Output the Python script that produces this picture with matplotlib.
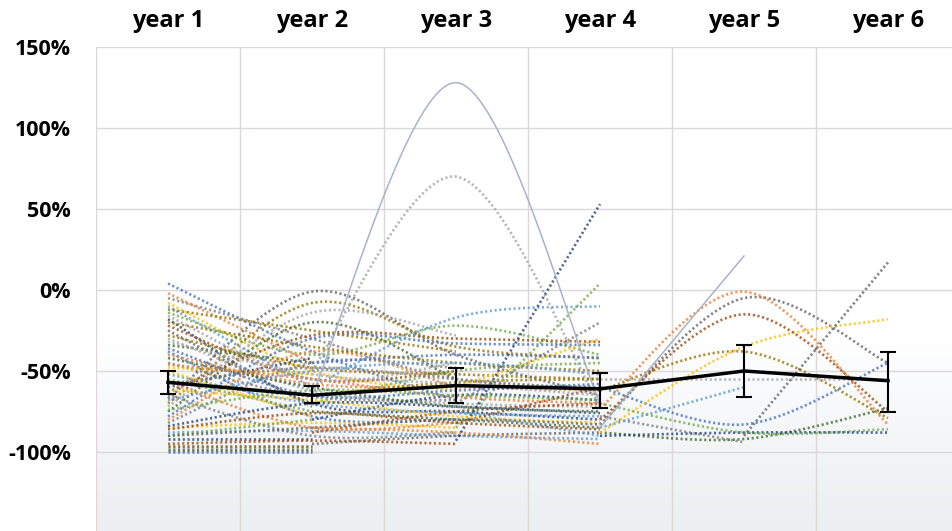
import numpy as np
import matplotlib.pyplot as plt
from matplotlib.colors import LinearSegmentedColormap

N = np.nan

years = ["year 1", "year 2", "year 3", "year 4", "year 5", "year 6"]

# mean change (%) with error bar extents
mean_change = [-57, -65, -59, -61, -50, -56]
err_below = [7, 5, 11, 12, 16, 19]
err_above = [7, 6, 11, 10, 16, 18]

# individual patients, one row per patient (year 1 .. year 6)
from_year1 = [
    [4, -38, -68, N, N, N],
    [-2, -45, N, N, N, N],
    [-5, -30, -55, -60, N, N],
    [-8, -50, -62, N, N, N],
    [-10, -60, N, N, N, N],
    [-14, -40, -22, -40, N, N],
    [-18, -70, -75, -80, N, N],
    [-22, -55, -50, N, N, N],
    [-25, -72, N, N, N, N],
    [-28, -48, -52, -55, N, N],
    [-30, -62, -70, -72, N, N],
    [-34, -45, N, N, N, N],
    [-38, -78, -80, N, N, N],
    [-40, -58, -60, -62, N, N],
    [-45, -66, -68, N, N, N],
    [-48, -52, N, N, N, N],
    [-52, -70, -76, -78, N, N],
    [-55, -75, N, N, N, N],
    [-60, -42, N, N, N, N],
    [-63, -28, -30, -32, N, N],
    [-67, -1, -40, -65, N, N],
    [-70, -8, -35, -42, N, N],
    [-72, -14, -28, N, N, N],
    [-75, -20, -55, N, N, N],
    [-78, -30, -33, -34, N, N],
    [-80, -38, -60, N, N, N],
    [-82, -45, -48, N, N, N],
    [-85, -82, -85, N, N, N],
    [-88, -87, -90, -92, N, N],
    [-90, -80, N, N, N, N],
    [-92, -92, N, N, N, N],
    [-95, -93, -95, N, N, N],
    [-96, -96, N, N, N, N],
    [-97, -97, N, N, N, N],
    [-98, -98, N, N, N, N],
    [-99, -99, N, N, N, N],
    [-100, -100, N, N, N, N],
    [-57, -85, -82, N, N, N],
    [-65, -90, -88, N, N, N],
    [-50, -78, N, N, N, N],
]

from_year2 = [
    [N, -60, -17, -10, N, N],
    [N, -70, -50, -45, N, N],
    [N, -80, -65, -68, N, N],
    [N, -88, -75, -70, N, N],
    [N, -95, -90, -88, N, N],
    [N, -65, -57, -55, N, N],
    [N, -50, 70, -72, N, N],
    [N, -75, -80, -85, N, N],
    [N, -45, -40, -42, N, N],
    [N, -85, -88, -95, N, N],
]

from_year3 = [
    [N, N, -70, -20, N, N],
    [N, N, -60, -30, N, N],
    [N, N, -75, -90, N, N],
    [N, N, -85, 4, N, N],
    [N, N, -93, 53, N, N],
    [N, N, -82, -60, N, N],
]

from_year4 = [
    [N, N, N, -83, -5, -45],
    [N, N, N, -62, -38, -79],
    [N, N, N, -55, -55, -55],
    [N, N, N, -88, -92, -73],
    [N, N, N, -60, -83, -45],
    [N, N, N, -73, -1, -83],
    [N, N, N, -78, -94, N],
    [N, N, N, -88, -35, -18],
    [N, N, N, -85, -60, N],
    [N, N, N, -70, -88, -86],
    [N, N, N, -90, -88, -88],
    [N, N, N, -80, -15, -75],
    [N, N, N, N, -90, 17],
]

# more year 1 patients in the middle of the band
from_year1_more = [
    [-20, -35, -45, -50, N, N],
    [-32, -52, -58, -65, N, N],
    [-42, -60, -72, -75, N, N],
    [-36, -65, -62, -58, N, N],
    [-46, -55, -66, -70, N, N],
    [-58, -48, -55, -62, N, N],
    [-62, -68, -78, -82, N, N],
    [-68, -50, -45, -52, N, N],
    [-74, -62, -65, -68, N, N],
    [-84, -70, -72, -76, N, N],
    [-86, -76, -82, -86, N, N],
    [-90, -85, -80, -83, N, N],
    [-12, -25, -38, N, N, N],
    [-16, -55, -45, N, N, N],
]

# two patients drawn with solid lines
solid_patients = [
    [N, -65, 128, -70, N, N],
    [N, N, N, -85, 21, N],
]

palette = ["#4472C4", "#ED7D31", "#7F7F7F", "#FFC000", "#5B9BD5", "#70AD47",
           "#264478", "#9E480E", "#636363", "#997300", "#A5A5A5", "#43682B"]


def smooth(xs, ys, n=40):
    # excel-style smoothed line (catmull-rom bezier)
    pts = np.column_stack([xs, ys]).astype(float)
    if len(pts) < 3:
        return pts[:, 0], pts[:, 1]
    segs = []
    t = np.linspace(0, 1, n)[:, None]
    for i in range(len(pts) - 1):
        p0 = pts[max(i - 1, 0)]
        p1 = pts[i]
        p2 = pts[i + 1]
        p3 = pts[min(i + 2, len(pts) - 1)]
        c1 = p1 + (p2 - p0) / 6
        c2 = p2 - (p3 - p1) / 6
        seg = (1 - t) ** 3 * p1 + 3 * (1 - t) ** 2 * t * c1 + 3 * (1 - t) * t ** 2 * c2 + t ** 3 * p2
        segs.append(seg if i == 0 else seg[1:])
    out = np.vstack(segs)
    return out[:, 0], out[:, 1]


xpos = np.arange(len(years)) + 0.5

fig = plt.figure(figsize=(9.53, 5.31), dpi=100)
ax = fig.add_axes([96 / 953, -2 / 531, 864 / 953, 486 / 531])
ax.set_xlim(0, 6)
ax.set_ylim(-150, 150)

# light grey shading towards the bottom
cmap = LinearSegmentedColormap.from_list("bg", ["#ffffff", "#f8f9fb", "#f1f3f5", "#eceef1"])
grad = np.linspace(0, 1, 100)[:, None]
ax.imshow(grad, extent=[0, 6, -150, -28], aspect="auto", cmap=cmap, zorder=0)

k = 0
for group in [from_year1, from_year2, from_year3, from_year4, from_year1_more]:
    for row in group:
        row = np.array(row, dtype=float)
        ok = ~np.isnan(row)
        sx, sy = smooth(xpos[ok], row[ok])
        ax.plot(sx, sy, color=palette[k % len(palette)], lw=1.9, alpha=0.8,
                linestyle=(0, (0.8, 1.0)), zorder=2)
        k += 1

for row in solid_patients:
    row = np.array(row, dtype=float)
    ok = ~np.isnan(row)
    sx, sy = smooth(xpos[ok], row[ok])
    ax.plot(sx, sy, color="#a3afc8", lw=1.1, alpha=0.95, zorder=2)

ax.errorbar(xpos, mean_change, yerr=[err_below, err_above], color="black", lw=2.5,
            elinewidth=1.5, capsize=6, capthick=1.5, zorder=5)

# grid
ax.set_xticks(np.arange(0, 7), minor=True)
ax.grid(True, which="minor", axis="x", color="#ddd8d8", lw=1, zorder=1)
ax.set_yticks([150, 100, 50, 0, -50, -100, -150])
ax.grid(True, which="major", axis="y", color="#ddd8d8", lw=1, zorder=1)
ax.set_axisbelow(True)
for s in ax.spines.values():
    s.set_visible(False)

ax.set_yticklabels(["150%", "100%", "50%", "0%", "-50%", "-100%", ""],
                   fontsize=15.5, fontweight="bold", family="Open Sans")
ax.tick_params(axis="y", length=0, pad=18)

ax.set_xticks(xpos)
ax.set_xticklabels(years, fontsize=17, fontweight="bold", family="Open Sans")
ax.xaxis.tick_top()
ax.tick_params(axis="x", which="both", length=0, pad=10)

fig.savefig("out.png", dpi=100)
